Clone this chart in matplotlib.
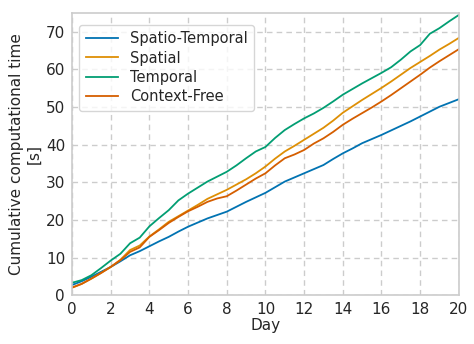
import numpy as np
import matplotlib
matplotlib.use("Agg")
import matplotlib.pyplot as plt

# half-day sampling, values
days = np.arange(0, 20.5, 0.5)

spatio_temporal = [2.7, 3.7, 4.9, 6.2, 7.5, 9.0, 10.6, 11.7, 13.0, 14.3, 15.5,
                   16.9, 18.2, 19.3, 20.4, 21.3, 22.2, 23.5, 24.8, 26.0, 27.2,
                   28.7, 30.2, 31.3, 32.4, 33.5, 34.6, 36.2, 37.7, 39.0, 40.4,
                   41.5, 42.6, 43.8, 45.0, 46.2, 47.5, 48.8, 50.1, 51.1, 52.1]
spatial = [2.0, 3.0, 4.4, 5.9, 7.5, 9.4, 12.0, 13.2, 15.6, 17.5, 19.5,
           21.0, 22.5, 24.0, 25.6, 26.8, 28.0, 29.4, 30.8, 32.4, 34.2,
           36.3, 38.2, 39.7, 41.3, 42.9, 44.5, 46.4, 48.5, 50.2, 51.9,
           53.5, 55.1, 56.8, 58.6, 60.4, 62.0, 63.6, 65.3, 66.8, 68.4]
temporal = [3.3, 4.0, 5.3, 7.2, 9.2, 11.0, 13.8, 15.3, 18.3, 20.5, 22.6,
            25.2, 27.0, 28.6, 30.2, 31.5, 32.8, 34.5, 36.4, 38.2, 39.4,
            41.8, 43.9, 45.5, 47.0, 48.3, 49.8, 51.5, 53.3, 54.8, 56.3,
            57.7, 59.1, 60.6, 62.6, 64.8, 66.5, 69.5, 71.0, 72.8, 74.5]
context_free = [2.0, 3.0, 4.4, 5.9, 7.5, 9.3, 11.5, 12.7, 15.5, 17.3, 19.2,
                20.8, 22.3, 23.5, 24.8, 25.7, 26.3, 27.8, 29.4, 31.0, 32.4,
                34.5, 36.4, 37.4, 38.6, 40.3, 41.7, 43.4, 45.3, 46.9, 48.4,
                49.9, 51.5, 53.2, 55.0, 56.8, 58.6, 60.5, 62.2, 63.8, 65.4]

series = [("Spatio-Temporal", spatio_temporal, "#0173b2"),
          ("Spatial", spatial, "#de8f05"),
          ("Temporal", temporal, "#029e73"),
          ("Context-Free", context_free, "#d55e00")]

plt.rcParams["font.family"] = "DejaVu Sans"
plt.rcParams["text.color"] = "#262626"
plt.rcParams["axes.labelcolor"] = "#262626"
plt.rcParams["xtick.color"] = "#262626"
plt.rcParams["ytick.color"] = "#262626"

fig = plt.figure(figsize=(4.74, 3.44), dpi=100)
ax = fig.add_axes([0.152, 0.142, 0.816, 0.82])

for name, vals, color in series:
    ax.plot(days, vals, color=color, linewidth=1.3, label=name)

ax.set_xlim(0, 20)
ax.set_ylim(0, 75)
ax.set_xticks(range(0, 21, 2))
ax.set_yticks(range(0, 71, 10))
ax.tick_params(labelsize=11, length=0, pad=5)
ax.grid(True, linestyle=(0, (4, 3)), color="#cccccc", linewidth=1)
ax.set_axisbelow(True)
for sp in ax.spines.values():
    sp.set_color("#cccccc")
    sp.set_linewidth(1.2)

ax.set_xlabel("Day", fontsize=11, labelpad=1)
ax.set_ylabel("Cumulative computational time\n[s]", fontsize=11, labelpad=3)

leg = ax.legend(loc="upper left", fontsize=10.5, frameon=True, fancybox=True,
                handlelength=2.2, borderpad=0.45, labelspacing=0.3,
                bbox_to_anchor=(0.0, 0.985))
leg.get_frame().set_edgecolor("#cccccc")

fig.savefig("out.png", dpi=100)
